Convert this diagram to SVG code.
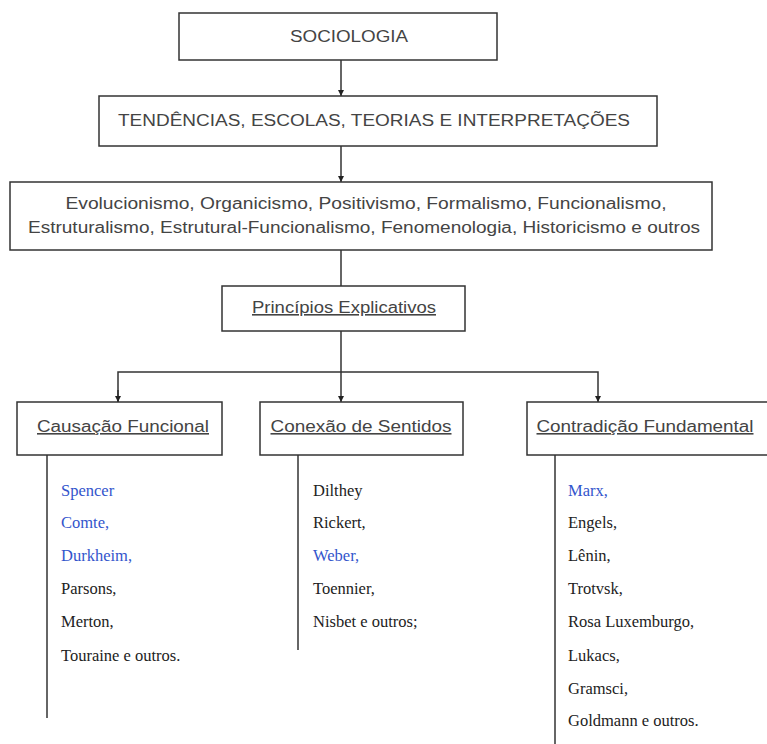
<svg xmlns="http://www.w3.org/2000/svg" width="767" height="744" viewBox="0 0 767 744">
<style>
.box{fill:#fff;stroke:#333;stroke-width:1.5}
.t{font-family:"Liberation Sans",Arial,sans-serif;font-size:16px;fill:#444;text-anchor:middle}
.u{text-decoration:underline}
.n{font-family:"Liberation Serif","Times New Roman",serif;font-size:16.5px;fill:#222}
.b{fill:#3355cc}
.c{stroke:#333;stroke-width:1.5;fill:none}
</style>
<defs>
<marker id="ah" viewBox="0 0 10 10" refX="10" refY="5" markerWidth="6" markerHeight="6" orient="auto" markerUnits="userSpaceOnUse">
<path d="M0,0 L10,5 L0,10 z" fill="#222"/>
</marker>
</defs>
<rect width="767" height="744" fill="#fff"/>
<g id="connectors">
<line class="c" x1="341" y1="60" x2="341" y2="96" marker-end="url(#ah)"/>
<line class="c" x1="341" y1="146" x2="341" y2="182" marker-end="url(#ah)"/>
<line class="c" x1="341" y1="250" x2="341" y2="286"/>
<line class="c" x1="341" y1="331" x2="341" y2="402" marker-end="url(#ah)"/>
<polyline class="c" points="118,402 118,372 598,372 598,402" marker-end="url(#ah)"/>
<line class="c" x1="118" y1="390" x2="118" y2="402" marker-end="url(#ah)"/>
<line class="c" x1="47" y1="455" x2="47" y2="718"/>
<line class="c" x1="298" y1="455" x2="298" y2="650"/>
<line class="c" x1="555" y1="455" x2="555" y2="744"/>
</g>
<g id="sociologia">
<rect class="box" x="179" y="13" width="318" height="47"/>
<text class="t" x="349" y="42" textLength="118" lengthAdjust="spacingAndGlyphs">SOCIOLOGIA</text>
</g>
<g id="tendencias">
<rect class="box" x="99" y="96" width="558" height="50"/>
<text class="t" x="374" y="126" textLength="512" lengthAdjust="spacingAndGlyphs">TENDÊNCIAS, ESCOLAS, TEORIAS E INTERPRETAÇÕES</text>
</g>
<g id="escolas">
<rect class="box" x="10" y="182" width="702" height="68"/>
<text class="t" x="366" y="209" textLength="601" lengthAdjust="spacingAndGlyphs">Evolucionismo, Organicismo, Positivismo, Formalismo, Funcionalismo,</text>
<text class="t" x="364" y="233" textLength="672" lengthAdjust="spacingAndGlyphs">Estruturalismo, Estrutural-Funcionalismo, Fenomenologia, Historicismo e outros</text>
</g>
<g id="principios">
<rect class="box" x="222" y="286" width="243" height="45"/>
<text class="t u" x="344" y="313" textLength="184" lengthAdjust="spacingAndGlyphs">Princípios Explicativos</text>
</g>
<g id="causacao">
<rect class="box" x="17" y="402" width="205" height="53"/>
<text class="t u" x="123" y="432" textLength="172" lengthAdjust="spacingAndGlyphs">Causação Funcional</text>
</g>
<g id="conexao">
<rect class="box" x="260" y="402" width="203" height="53"/>
<text class="t u" x="361" y="432" textLength="181" lengthAdjust="spacingAndGlyphs">Conexão de Sentidos</text>
</g>
<g id="contradicao">
<rect class="box" x="527" y="402" width="250" height="53"/>
<text class="t u" x="645" y="432" textLength="217" lengthAdjust="spacingAndGlyphs">Contradição Fundamental</text>
</g>
<g id="lista-causacao">
<text class="n b" x="61" y="496">Spencer</text>
<text class="n b" x="61" y="528">Comte,</text>
<text class="n b" x="61" y="561">Durkheim,</text>
<text class="n" x="61" y="594">Parsons,</text>
<text class="n" x="61" y="627">Merton,</text>
<text class="n" x="61" y="661">Touraine e outros.</text>
</g>
<g id="lista-conexao">
<text class="n" x="313" y="496">Dilthey</text>
<text class="n" x="313" y="528">Rickert,</text>
<text class="n b" x="313" y="561">Weber,</text>
<text class="n" x="313" y="594">Toennier,</text>
<text class="n" x="313" y="627">Nisbet e outros;</text>
</g>
<g id="lista-contradicao">
<text class="n b" x="568" y="496">Marx,</text>
<text class="n" x="568" y="528">Engels,</text>
<text class="n" x="568" y="561">Lênin,</text>
<text class="n" x="568" y="594">Trotvsk,</text>
<text class="n" x="568" y="627">Rosa Luxemburgo,</text>
<text class="n" x="568" y="661">Lukacs,</text>
<text class="n" x="568" y="694">Gramsci,</text>
<text class="n" x="568" y="726">Goldmann e outros.</text>
</g>
</svg>
